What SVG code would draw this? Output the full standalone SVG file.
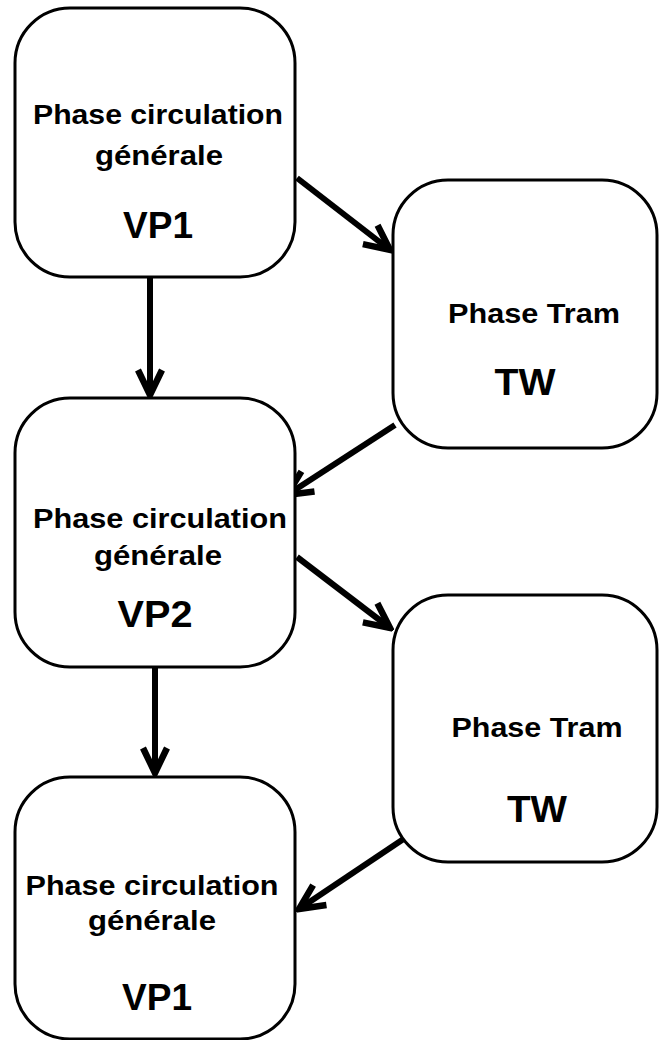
<svg xmlns="http://www.w3.org/2000/svg" width="659" height="1040" viewBox="0 0 659 1040">
<style>
.box{fill:#fff;stroke:#000;stroke-width:3}
.t{font-family:"Liberation Sans",Arial,sans-serif;font-weight:bold;fill:#000;text-anchor:middle}
.s{font-size:27.5px}
.b{font-size:37px}
.conn{stroke:#000;stroke-width:6;fill:none;marker-end:url(#ah)}
</style>
<defs>
<marker id="ah" markerUnits="userSpaceOnUse" viewBox="-30 -16 34 32" refX="0" refY="0" markerWidth="34" markerHeight="32" orient="auto">
<path d="M-25,-12 L0,0 L-25,12" fill="none" stroke="#000" stroke-width="6.5" stroke-linejoin="miter"/>
</marker>
</defs>
<g id="connectors">
<line class="conn" x1="297" y1="178" x2="390" y2="250"/>
<line class="conn" x1="150" y1="277" x2="150" y2="395"/>
<line class="conn" x1="395" y1="425" x2="287" y2="495"/>
<line class="conn" x1="297" y1="557" x2="390" y2="628"/>
<line class="conn" x1="155" y1="667" x2="155" y2="773"/>
<line class="conn" x1="405" y1="838" x2="299" y2="909"/>
</g>
<g id="vp1-top">
<rect class="box" x="15" y="8" width="280" height="269" rx="55" ry="55"/>
<text class="t s" x="158" y="124" textLength="250" lengthAdjust="spacingAndGlyphs">Phase circulation</text>
<text class="t s" x="159" y="165" textLength="128" lengthAdjust="spacingAndGlyphs">générale</text>
<text class="t b" x="158" y="238" textLength="70" lengthAdjust="spacingAndGlyphs">VP1</text>
</g>
<g id="tw-top">
<rect class="box" x="393" y="180" width="264" height="268" rx="55" ry="55"/>
<text class="t s" x="534" y="323" textLength="172" lengthAdjust="spacingAndGlyphs">Phase Tram</text>
<text class="t b" x="525" y="395" textLength="61" lengthAdjust="spacingAndGlyphs">TW</text>
</g>
<g id="vp2">
<rect class="box" x="15" y="398" width="280" height="269" rx="55" ry="55"/>
<text class="t s" x="160" y="528" textLength="254" lengthAdjust="spacingAndGlyphs">Phase circulation</text>
<text class="t s" x="158" y="565" textLength="128" lengthAdjust="spacingAndGlyphs">générale</text>
<text class="t b" x="155" y="627" textLength="75" lengthAdjust="spacingAndGlyphs">VP2</text>
</g>
<g id="tw-bottom">
<rect class="box" x="393" y="595" width="264" height="267" rx="55" ry="55"/>
<text class="t s" x="537" y="737" textLength="171" lengthAdjust="spacingAndGlyphs">Phase Tram</text>
<text class="t b" x="537" y="822" textLength="60" lengthAdjust="spacingAndGlyphs">TW</text>
</g>
<g id="vp1-bottom">
<rect class="box" x="15" y="777" width="280" height="262" rx="55" ry="55"/>
<text class="t s" x="152" y="895" textLength="253" lengthAdjust="spacingAndGlyphs">Phase circulation</text>
<text class="t s" x="152" y="930" textLength="128" lengthAdjust="spacingAndGlyphs">générale</text>
<text class="t b" x="157" y="1010" textLength="70" lengthAdjust="spacingAndGlyphs">VP1</text>
</g>
</svg>
